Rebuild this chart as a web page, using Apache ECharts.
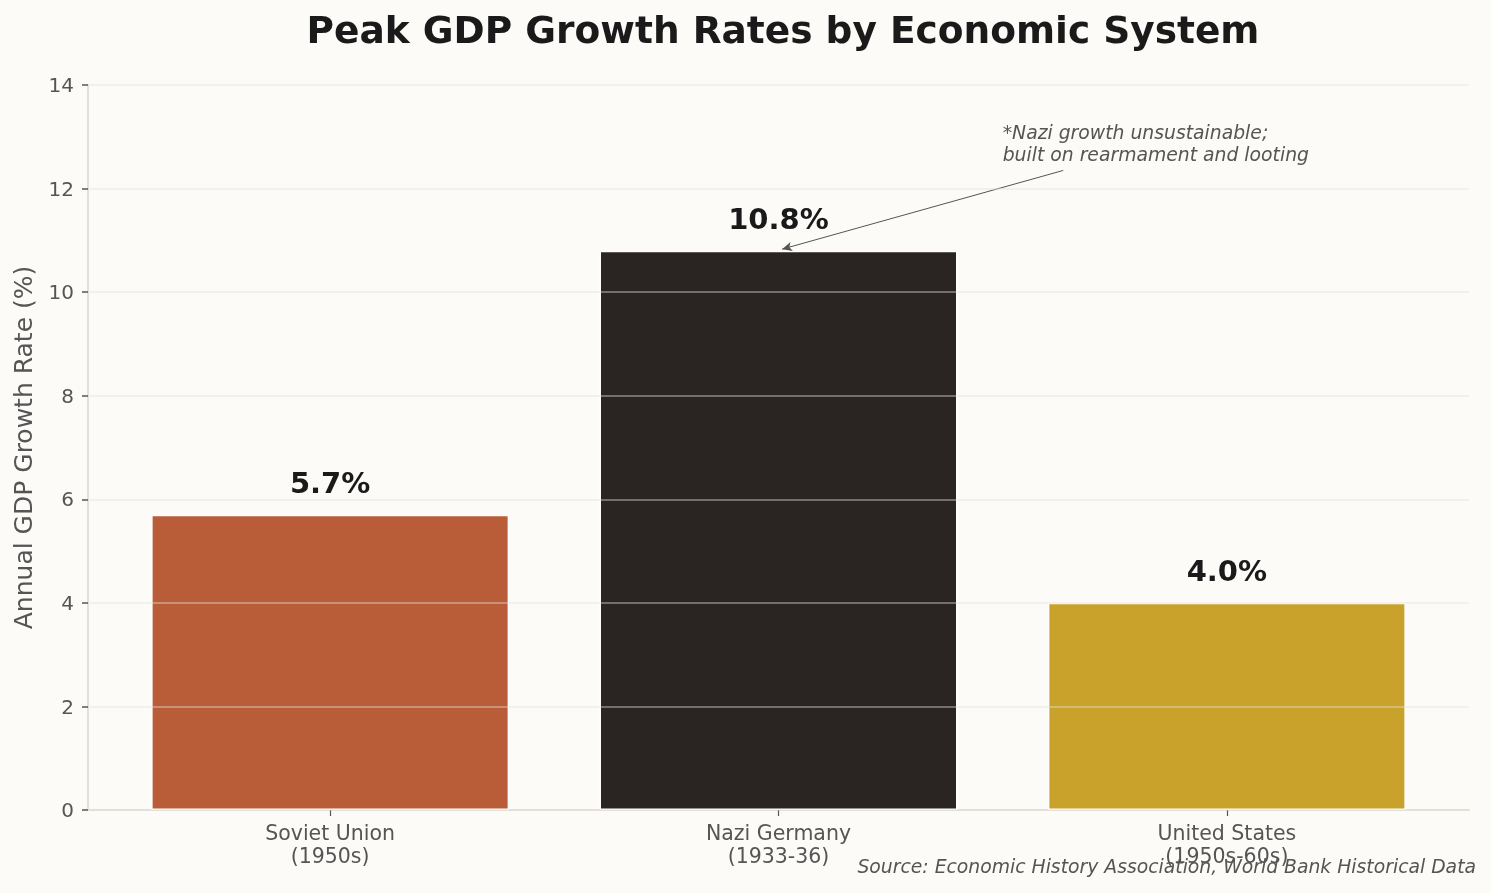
<!DOCTYPE html>
<html>
<head>
<meta charset="utf-8">
<script src="https://cdn.jsdelivr.net/npm/echarts@6/dist/echarts.min.js"></script>
<style>
  html, body { margin: 0; padding: 0; background: #fcfbf8; }
  #chart { width: 1491px; height: 893px; }
</style>
</head>
<body>
<div id="chart"></div>
<script>
// Chart data
const categories = ['Soviet Union\n(1950s)', 'Nazi Germany\n(1933-36)', 'United States\n(1950s-60s)']
const growthRates = [5.7, 10.8, 4.0]
const barColors = ['#b95c38', '#2a2522', '#c9a22b']
const yTicks = [0, 2, 4, 6, 8, 10, 12, 14]

const noteText = '*Nazi growth unsustainable;\nbuilt on rearmament and looting'
const sourceText = 'Source: Economic History Association, World Bank Historical Data'

const font = 'DejaVu Sans'
const chart = echarts.init(document.getElementById('chart'))

const options = {
  backgroundColor: '#fcfbf8',
  animation: false,
  title: {
    text: 'Peak GDP Growth Rates by Economic System',
    left: 778,
    textAlign: 'center',
    top: 9,
    textStyle: { fontFamily: font, fontSize: 37.5, fontWeight: 'bold', color: '#1a1a1a' }
  },
  grid: { left: 88, right: 22, top: 85, bottom: 83 },
  xAxis: {
    type: 'value',
    min: -0.54,
    max: 2.54,
    splitLine: { show: false },
    axisLine: { show: true, onZero: false, lineStyle: { color: '#e3dfda', width: 2 } },
    axisTick: { show: true, customValues: [0, 1, 2], length: 6, lineStyle: { color: '#5a5550', width: 1.2 } },
    axisLabel: {
      customValues: [0, 1, 2],
      formatter: v => categories[Math.round(v)],
      fontFamily: font, fontSize: 20.5, color: '#555', lineHeight: 23, margin: 13
    }
  },
  yAxis: {
    type: 'value',
    min: 0,
    max: 14,
    interval: 2,
    z: 10,
    name: 'Annual GDP Growth Rate (%)',
    nameLocation: 'middle',
    nameGap: 46,
    nameTextStyle: { fontFamily: font, fontSize: 25, color: '#555' },
    axisLine: { show: true, onZero: false, lineStyle: { color: '#e3dfda', width: 2 } },
    axisTick: { show: true, length: 6, lineStyle: { color: '#5a5550', width: 1.5 } },
    axisLabel: {
      fontFamily: font, fontSize: 20, color: '#555', margin: 14,
      lineHeight: 26, verticalAlign: 'top', padding: [-11, 0, 0, 0],
      formatter: v => (yTicks.includes(v) ? String(v) : '')
    },
    splitLine: { show: true, lineStyle: { color: 'rgba(227,224,219,0.53)', width: 1.5 } }
  },
  series: [
    {
      type: 'bar',
      barWidth: 358,
      data: growthRates.map((v, i) => ({
        value: [i, v],
        itemStyle: { color: barColors[i], borderColor: '#ffffff', borderWidth: 1.5 }
      })),
      label: {
        show: true,
        position: 'top',
        distance: 15,
        formatter: p => p.value[1].toFixed(1) + '%',
        fontFamily: font, fontSize: 29, fontWeight: 'bold', color: '#1a1a1a'
      },
      markLine: {
        silent: true,
        symbol: ['none', 'arrow'],
        symbolSize: [7, 10],
        lineStyle: { color: '#555', width: 1, type: 'solid' },
        label: { show: false },
        data: [[{ coord: [1.635, 12.35] }, { coord: [1.008, 10.83] }]]
      },
      markPoint: {
        silent: true,
        symbol: 'circle',
        symbolSize: 0,
        data: [{ coord: [1.5, 13.05] }],
        label: {
          show: true,
          position: 'right',
          distance: 0,
          offset: [0, 33],
          align: 'left',
          verticalAlign: 'bottom',
          formatter: noteText,
          fontFamily: font, fontSize: 18.8, fontStyle: 'italic', color: '#555', lineHeight: 22
        }
      }
    }
  ],
  graphic: [
    {
      type: 'text',
      right: 15,
      top: 859,
      style: {
        text: sourceText,
        fontFamily: font, fontSize: 18.8, fontStyle: 'italic', fill: '#555'
      }
    }
  ]
}

chart.setOption(options)
</script>
</body>
</html>
